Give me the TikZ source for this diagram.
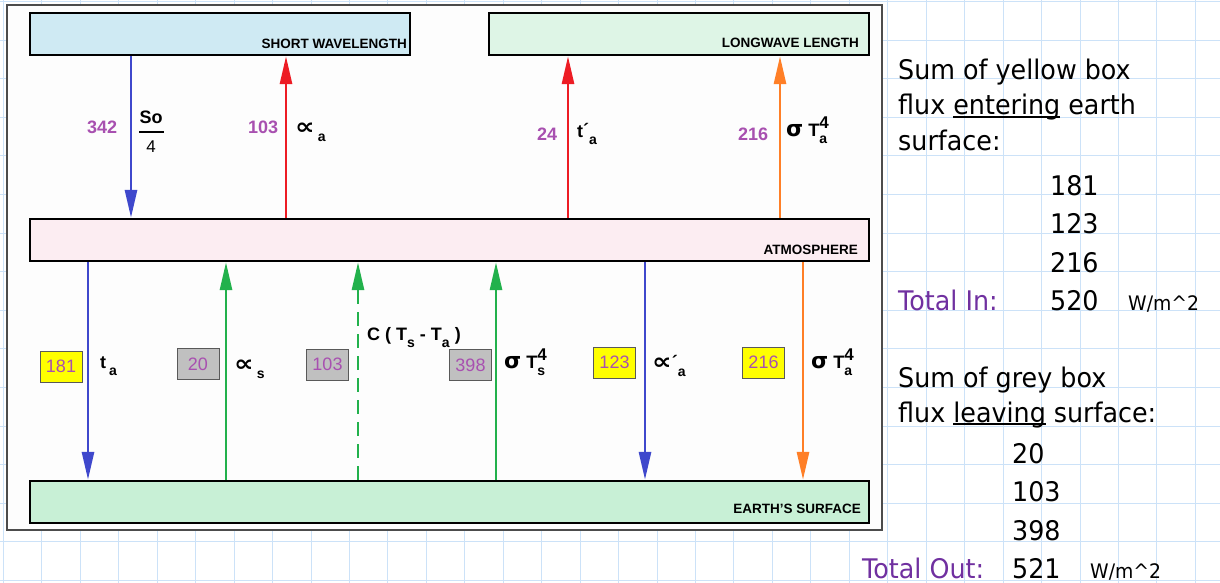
\documentclass[tikz,border=0pt]{standalone}
\usepackage{fontspec}
\usepackage{graphicx}
\setmainfont{Liberation Sans}
\newfontfamily\symfont{DejaVu Sans}
\newfontfamily\notefont[FakeStretch=0.94]{DejaVu Sans}
\usetikzlibrary{arrows.meta}

\definecolor{gridblue}{RGB}{204,226,248}
\definecolor{framefill}{RGB}{253,253,253}
\definecolor{swfill}{RGB}{207,234,243}
\definecolor{lwfill}{RGB}{222,245,230}
\definecolor{atmfill}{RGB}{252,237,242}
\definecolor{earthfill}{RGB}{200,240,214}
\definecolor{fluxblue}{RGB}{63,72,204}
\definecolor{fluxred}{RGB}{237,28,36}
\definecolor{fluxorange}{RGB}{255,127,39}
\definecolor{fluxgreen}{RGB}{34,177,76}
\definecolor{numpurple}{RGB}{168,80,176}
\definecolor{totpurple}{RGB}{112,48,160}
\definecolor{boxyellow}{RGB}{255,255,0}
\definecolor{boxgrey}{RGB}{192,192,192}

% subscripts / superscripts for the flux symbols
\newcommand\lowsub[1]{\raisebox{-7pt}{\fontsize{14}{14}\selectfont #1}}
\newcommand\supsub[2]{\makebox[0pt][l]{\raisebox{8pt}{\fontsize{17}{17}\selectfont #1}}\lowsub{#2}}
\newcommand\propsym{{\symfont\bfseries\fontsize{19}{19}\selectfont\scalebox{1.45}[1.2]{∝}}}
\newcommand\sigsym{{\symfont\bfseries\fontsize{22}{22}\selectfont σ}}
\newcommand\primemark{\raisebox{1pt}{´}}
% underline sitting just under the baseline
\newsavebox\ulbox
\newcommand\ulword[1]{\sbox\ulbox{#1}\rlap{\rule[-3pt]{\wd\ulbox}{1.8pt}}\usebox\ulbox}

\tikzset{
  layerbox/.style={draw=black, line width=2.4pt, minimum height=42pt, inner sep=0pt},
  layername/.style={font=\bfseries\fontsize{13.5}{13.5}\selectfont, anchor=base east, inner sep=0pt},
  flux/.style={line width=2.8pt, -{Triangle[length=28pt,width=12pt]}},
  fluxval/.style={text=numpurple, font=\bfseries\fontsize{18}{18}\selectfont, anchor=base west, inner sep=0pt},
  sym/.style={font=\bfseries\fontsize{18}{18}\selectfont, anchor=base west, inner sep=0pt},
  tally/.style={draw=black!65, line width=1pt, minimum width=42pt, minimum height=31pt, inner sep=0pt,
    text=numpurple, font=\fontsize{18}{18}\selectfont},
  note/.style={font=\notefont\fontsize{27}{27}\selectfont, anchor=base west, inner sep=0pt},
  unit/.style={font=\notefont\fontsize{20}{20}\selectfont, anchor=base west, inner sep=0pt},
}

\begin{document}
\begin{tikzpicture}[x=1pt,y=-1pt]
\useasboundingbox (0,0) rectangle (1220,583);
\fill[white] (0,0) rectangle (1220,583);

% squared paper
\foreach \k in {0,...,31} \draw[gridblue, line width=1pt] ({3.4+38.45*\k},0) -- ({3.4+38.45*\k},583);
\foreach \k in {0,...,15} \draw[gridblue, line width=1pt] (0,{1.5+38.6*\k}) -- (1220,{1.5+38.6*\k});

% diagram frame
\draw[fill=framefill, draw=black!70, line width=1.2pt] (7,5) rectangle (882,530);

% layers
\node[layerbox, fill=swfill, minimum width=380pt] (sw) at (220,34) {};
\node[layerbox, fill=lwfill, minimum width=380pt] (lw) at (679,34) {};
\node[layerbox, fill=atmfill, minimum width=839pt] (atm) at (449.5,240) {};
\node[layerbox, fill=earthfill, minimum width=839pt] (earth) at (449.5,502) {};

\node[layername] (swname) at (407,49) {SHORT WAVELENGTH};
\node[layername] (lwname) at (859,48) {LONGWAVE LENGTH};
\node[layername] (atmname) at (858,254) {ATMOSPHERE};
\node[layername] (earthname) at (861,513) {EARTH'S SURFACE};

% arrow columns
\coordinate (xa) at (131,0);
\coordinate (xb) at (286,0);
\coordinate (xc) at (568,0);
\coordinate (xd) at (780,0);
\coordinate (xe) at (88,0);
\coordinate (xf) at (226,0);
\coordinate (xg) at (358,0);
\coordinate (xh) at (496,0);
\coordinate (xi) at (645,0);
\coordinate (xj) at (803,0);

% fluxes between space and atmosphere
\draw[flux, fluxblue] (sw.south -| xa) -- (atm.north -| xa);
\draw[flux, fluxred] (atm.north -| xb) -- (sw.south -| xb);
\draw[flux, fluxred] (atm.north -| xc) -- (lw.south -| xc);
\draw[flux, fluxorange] (atm.north -| xd) -- (lw.south -| xd);

% fluxes between atmosphere and surface
\draw[flux, fluxblue] (atm.south -| xe) -- (earth.north -| xe);
\draw[flux, fluxgreen] (earth.north -| xf) -- (atm.south -| xf);
\draw[flux, fluxgreen, dash pattern=on 14pt off 8pt] (earth.north -| xg) -- (atm.south -| xg);
\draw[flux, fluxgreen] (earth.north -| xh) -- (atm.south -| xh);
\draw[flux, fluxblue] (atm.south -| xi) -- (earth.north -| xi);
\draw[flux, fluxorange] (atm.south -| xj) -- (earth.north -| xj);

% upper labels
\node[fluxval] (v342) at (87,133) {342};
\node[sym, anchor=base] (so) at (151,124) {So};
\node[font=\fontsize{17}{17}\selectfont, anchor=base, inner sep=0pt] (four) at (151,152) {4};
\draw[line width=2pt] (139,132) -- (164,132);
\node[fluxval] (v103a) at (248,133) {103};
\node[sym] (alpha) at (295,135) {\propsym\,\lowsub{a}};
\node[fluxval] (v24) at (537,140) {24};
\node[sym] (tpa) at (577,137) {t\primemark\lowsub{a}};
\node[fluxval] (v216a) at (738,140) {216};
\node[sym] (sta) at (786,136) {\sigsym\ T\supsub{4}{a}};

% lower labels
\node[tally, fill=boxyellow] (y181) at (61,366.5) {181};
\node[sym] (ta) at (100,368) {t\,\lowsub{a}};
\node[tally, fill=boxgrey] (g20) at (198,364) {20};
\node[sym] (alphas) at (234,371) {\propsym\,\lowsub{s}};
\node[tally, fill=boxgrey] (g103) at (327.5,364.5) {103};
\node[sym] (cond) at (367,340) {C ( T\lowsub{s} - T\lowsub{a} )};
\node[tally, fill=boxgrey] (g398) at (470.5,365) {398};
\node[sym] (sts) at (504,368) {\sigsym\ T\supsub{4}{s}};
\node[tally, fill=boxyellow] (y123) at (614.5,362.5) {123};
\node[sym] (alphapa) at (652,369) {\propsym\primemark\lowsub{a}};
\node[tally, fill=boxyellow] (y216) at (763.5,362.5) {216};
\node[sym] (sta2) at (811,368) {\sigsym\ T\supsub{4}{a}};

% tallies beside the diagram
\node[note] (in1) at (898,80) {Sum of yellow box};
\node[note] (in2) at (898,115) {flux \ulword{entering} earth};
\node[note] (in3) at (898,150) {surface:};
\node[note] (n181) at (1050,195) {181};
\node[note] (n123) at (1050,233) {123};
\node[note] (n216) at (1050,272) {216};
\node[note, text=totpurple] (totin) at (898,310) {Total In:};
\node[note] (n520) at (1050,310) {520};
\node[unit] (uin) at (1128,310) {W/m\^{}2};

\node[note] (out1) at (898,387) {Sum of grey box};
\node[note] (out2) at (898,422) {flux \ulword{leaving} surface:};
\node[note] (n20) at (1012,463) {20};
\node[note] (n103) at (1012,501) {103};
\node[note] (n398) at (1012,540) {398};
\node[note, text=totpurple] (totout) at (862,578) {Total Out:};
\node[note] (n521) at (1012,578) {521};
\node[unit] (uout) at (1090,578) {W/m\^{}2};
\end{tikzpicture}
\end{document}
